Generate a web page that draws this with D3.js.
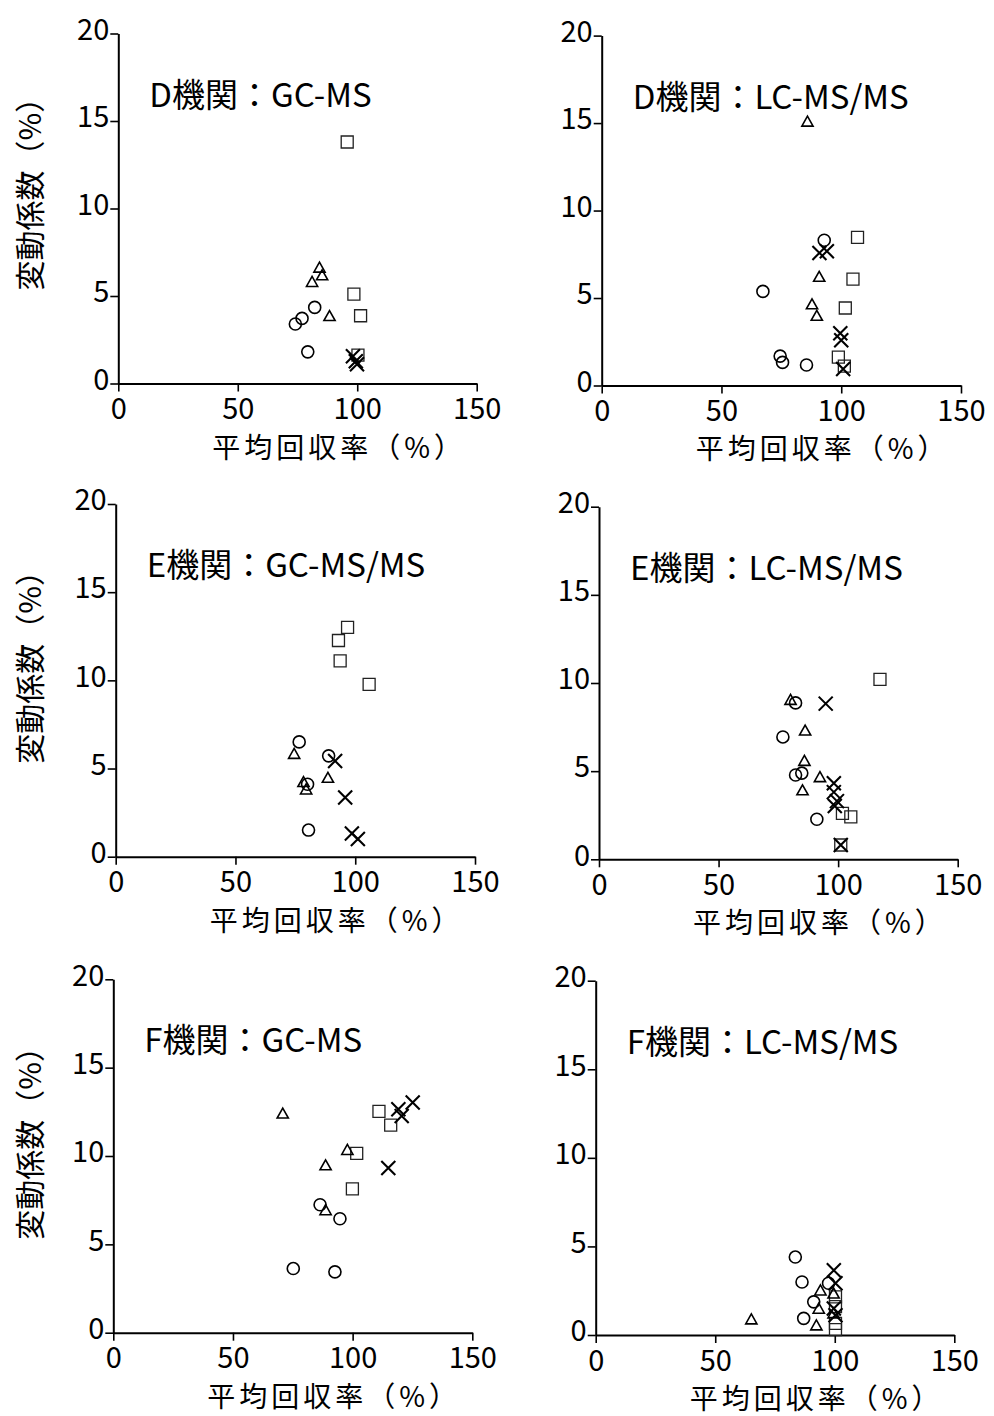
<!DOCTYPE html>
<html>
<head>
<meta charset="utf-8">
<script src="https://cdn.jsdelivr.net/npm/d3@7"></script>
<style>
  html, body { margin: 0; padding: 0; background: #fff; }
  svg text { font-family: "Noto Sans CJK JP", "Noto Sans", sans-serif; fill: #000; }
</style>
</head>
<body>
<div id="chart"></div>
<script>
// 軸の目盛
const xTicks = [0, 50, 100, 150];
const yTicks = [0, 5, 10, 15, 20];
const xTitle = '平均回収率（%）';
const yTitle = '変動係数（%）';
const panelTitles = ['D機関：GC-MS', 'D機関：LC-MS/MS', 'E機関：GC-MS/MS', 'E機関：LC-MS/MS', 'F機関：GC-MS', 'F機関：LC-MS/MS'];

// [平均回収率, 変動係数]
const dGcCircle = [[82.2, 4.35], [76.9, 3.72], [74.1, 3.4], [79.3, 1.81]];
const dGcTriangle = [[84.2, 6.64], [85.3, 6.2], [81.1, 5.82], [88.4, 3.87]];
const dGcSquare = [[95.8, 13.8], [98.6, 5.11], [101.4, 3.87], [100.3, 1.62]];
const dGcCross = [[98.2, 1.56], [99.4, 1.27], [99.9, 1.1]];

const dLcCircle = [[92.9, 8.3], [67.3, 5.38], [74.5, 1.68], [75.5, 1.32], [85.5, 1.17]];
const dLcTriangle = [[85.9, 15.1], [90.8, 6.23], [87.8, 4.66], [89.8, 4.0]];
const dLcSquare = [[106.8, 8.47], [104.9, 6.08], [101.7, 4.43], [98.8, 1.62], [101.3, 1.11]];
const dLcCross = [[90.9, 7.58], [94.0, 7.68], [99.6, 2.98], [100, 2.58], [100.8, 0.94]];

const eGcCircle = [[76.6, 6.51], [88.9, 5.72], [80.1, 4.11], [80.5, 1.51]];
const eGcTriangle = [[74.5, 5.85], [88.6, 4.49], [78.4, 4.25], [79.5, 3.83]];
const eGcSquare = [[96.8, 13.0], [93.0, 12.26], [93.7, 11.1], [105.8, 9.77]];
const eGcCross = [[91.6, 5.43], [95.8, 3.36], [98.6, 1.32], [101.1, 1.0]];

const eLcCircle = [[82.2, 8.87], [76.9, 6.94], [82.2, 4.78], [84.8, 4.89], [91.1, 2.27]];
const eLcTriangle = [[80.1, 9.06], [86.2, 7.32], [85.9, 5.6], [92.4, 4.68], [85.1, 3.93]];
const eLcSquare = [[117.5, 10.2], [101.8, 2.61], [105.3, 2.41], [101.1, 0.81]];
const eLcCross = [[94.8, 8.83], [98.2, 4.32], [98.2, 3.81], [99.5, 3.3], [98.6, 3.02], [101.1, 0.81]];

const fGcCircle = [[86.4, 7.24], [94.7, 6.45], [75.2, 3.63], [92.6, 3.44]];
const fGcTriangle = [[70.8, 12.42], [97.8, 10.36], [88.7, 9.49], [88.7, 6.95]];
const fGcSquare = [[111.0, 12.52], [115.9, 11.75], [101.7, 10.15], [99.9, 8.14]];
const fGcCross = [[125.1, 13.03], [119.1, 12.65], [120.5, 12.27], [114.9, 9.32]];

const fLcCircle = [[83.5, 4.4], [86.3, 2.99], [97.4, 2.92], [91.2, 1.87], [87.0, 0.94]];
const fLcTriangle = [[65.1, 0.9], [94.0, 2.53], [93.3, 1.5], [92.3, 0.56], [99.5, 2.36], [99.5, 1.24]];
const fLcSquare = [[100.3, 2.15], [100.3, 1.6], [100.3, 0.66], [100.3, 0.3]];
const fLcCross = [[99.6, 3.65], [100.3, 2.92], [99.6, 1.5], [100.3, 1.12]];

const panelSeries = [
    { circle: dGcCircle, triangle: dGcTriangle, square: dGcSquare, cross: dGcCross },
    { circle: dLcCircle, triangle: dLcTriangle, square: dLcSquare, cross: dLcCross },
    { circle: eGcCircle, triangle: eGcTriangle, square: eGcSquare, cross: eGcCross },
    { circle: eLcCircle, triangle: eLcTriangle, square: eLcSquare, cross: eLcCross },
    { circle: fGcCircle, triangle: fGcTriangle, square: fGcSquare, cross: fGcCross },
    { circle: fLcCircle, triangle: fLcTriangle, square: fLcSquare, cross: fLcCross }
];

// パネルの位置（スキャン原稿に合わせて少しずつずれている）
const layout = [
    { left: 118.3, top: 33.5, bottom: 383.5, right: 476.7 },
    { left: 601.7, top: 35.6, bottom: 385.5, right: 961.0 },
    { left: 115.7, top: 504.0, bottom: 856.7, right: 475.0 },
    { left: 599.0, top: 506.7, bottom: 859.3, right: 957.7 },
    { left: 113.3, top: 979.3, bottom: 1332.7, right: 472.3 },
    { left: 595.7, top: 980.7, bottom: 1335.0, right: 954.3 }
];

// マーカー形状
const shapes = {
    circle: { draw(ctx) { ctx.moveTo(6, 0); ctx.arc(0, 0, 6, 0, 2 * Math.PI); } },
    square: { draw(ctx) { ctx.rect(-6, -6, 12, 12); } },
    triangle: { draw(ctx) { ctx.moveTo(0, -5.2); ctx.lineTo(5.6, 4.8); ctx.lineTo(-5.6, 4.8); ctx.closePath(); } },
    cross: { draw(ctx) { ctx.moveTo(-7, -7); ctx.lineTo(7, 7); ctx.moveTo(7, -7); ctx.lineTo(-7, 7); } }
};
const strokeW = { circle: 1.6, square: 1.3, triangle: 1.6, cross: 2.1 };
const strokeC = { circle: '#000', square: '#222', triangle: '#000', cross: '#000' };

const svg = d3.select('#chart')
    .append('svg')
    .attr('width', 994)
    .attr('height', 1416);

layout.forEach((p, i) => {
    const w = p.right - p.left;
    const h = p.bottom - p.top;
    const x = d3.scaleLinear().domain([0, 150]).range([0, w]);
    const y = d3.scaleLinear().domain([0, 20]).range([h, 0]);

    const g = svg.append('g').attr('transform', `translate(${p.left},${p.top})`);

    // 軸
    const xAxis = g.append('g')
        .attr('transform', `translate(0,${h})`)
        .call(d3.axisBottom(x).tickValues(xTicks).tickSize(8).tickSizeOuter(0).tickPadding(7));
    const yAxis = g.append('g')
        .call(d3.axisLeft(y).tickValues(yTicks).tickSize(8).tickSizeOuter(0).tickPadding(1));
    [xAxis, yAxis].forEach(a => {
        a.select('.domain').attr('stroke', '#000').attr('stroke-width', 2);
        a.selectAll('.tick line').attr('stroke', '#000').attr('stroke-width', 1.6);
        a.selectAll('.tick text')
            .style('font-family', '"Noto Sans CJK JP", "Noto Sans", sans-serif')
            .style('font-size', '29px')
            .attr('fill', '#000');
    });
    yAxis.selectAll('.tick text').attr('dy', '0.2em');

    // パネル名
    g.append('text')
        .attr('x', 31)
        .attr('y', 73)
        .style('font-size', '33px')
        .text(panelTitles[i]);

    // 軸タイトル
    g.append('text')
        .attr('x', 94)
        .attr('y', h + 74)
        .style('font-size', '28px')
        .style('letter-spacing', '4px')
        .text(xTitle);

    if (i % 2 === 0) {
        g.append('text')
            .attr('transform', 'rotate(-90)')
            .attr('x', -(h - 93))
            .attr('y', -p.left + 41)
            .style('font-size', '30px')
            .text(yTitle);
    }

    // データ点
    const series = panelSeries[i];
    ['square', 'circle', 'triangle', 'cross'].forEach(key => {
        g.selectAll(null)
            .data(series[key])
            .enter()
            .append('path')
            .attr('d', d3.symbol().type(shapes[key]))
            .attr('transform', d => `translate(${x(d[0])},${y(d[1])})`)
            .attr('fill', 'none')
            .attr('stroke', strokeC[key])
            .attr('stroke-width', strokeW[key]);
    });
});
</script>
</body>
</html>
